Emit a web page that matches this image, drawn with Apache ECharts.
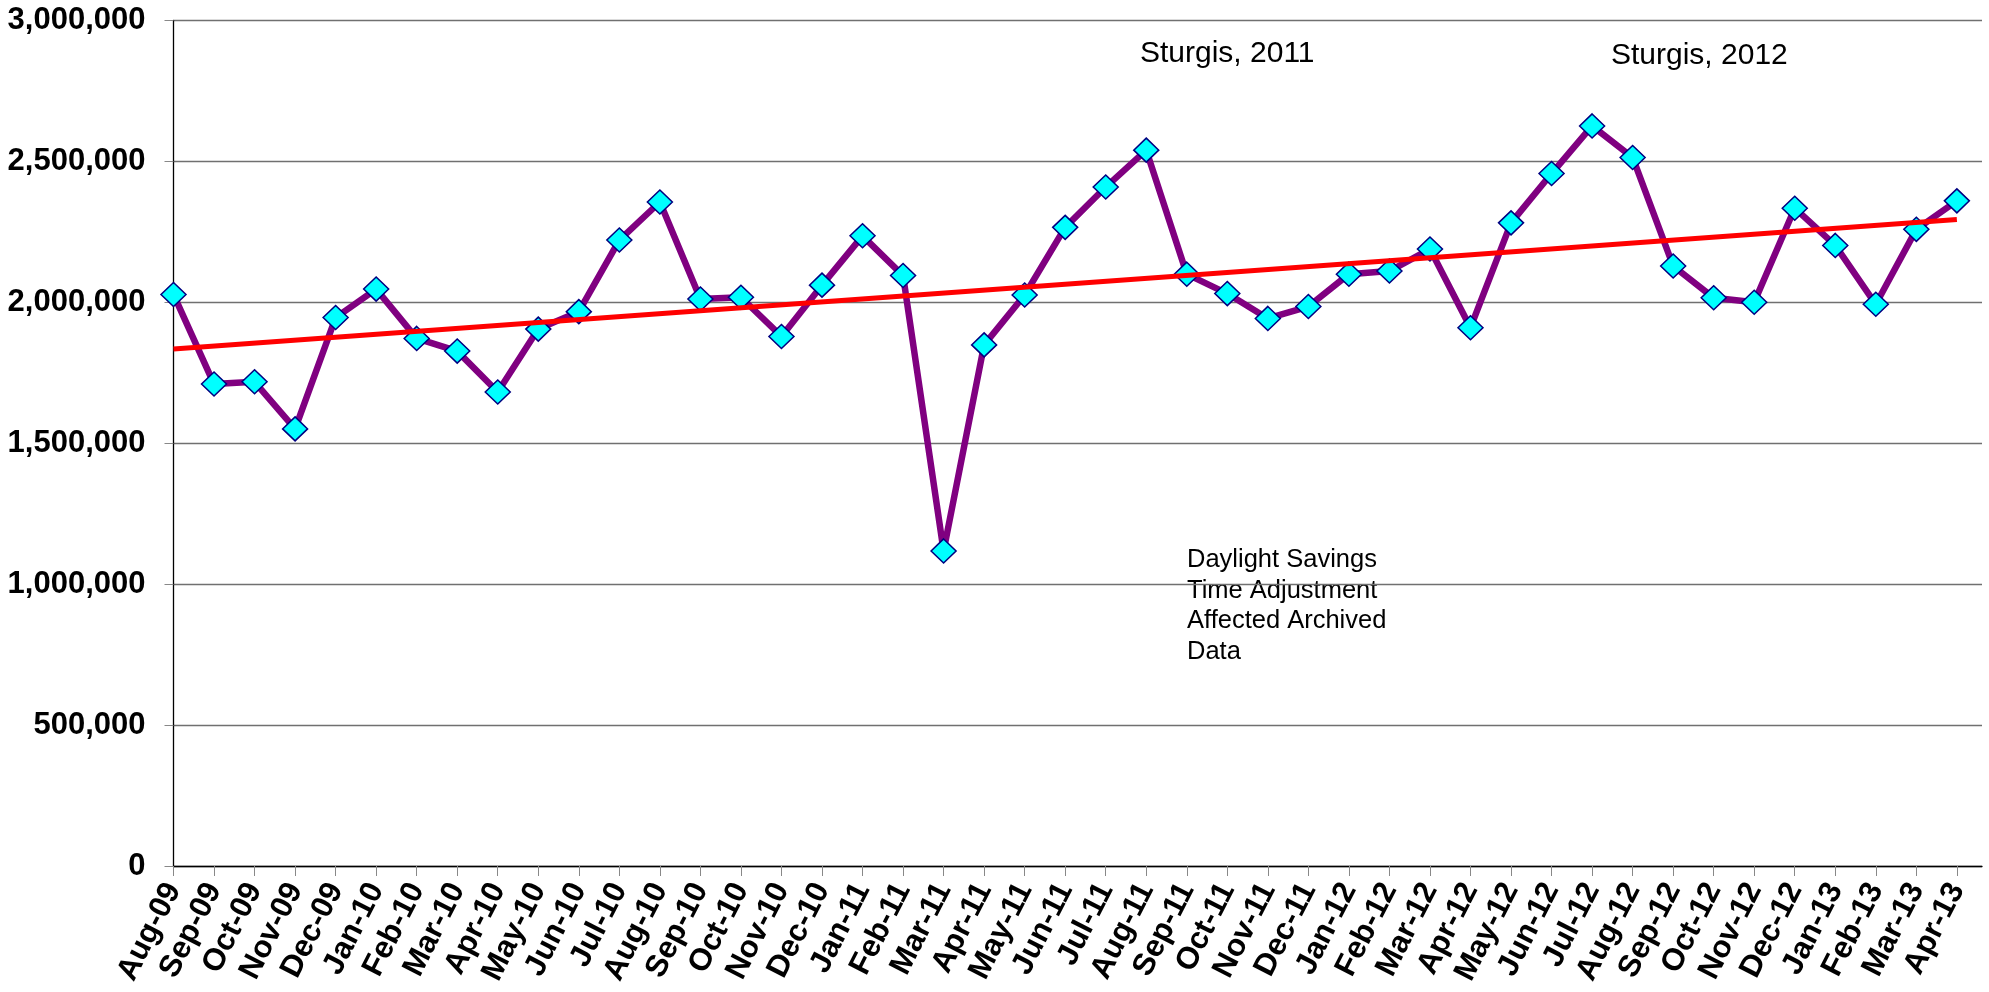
<!DOCTYPE html>
<html>
	<head>
		<meta charset="UTF-8">
		<title></title>
		<style>html,body{margin:0;padding:0;background:#fff;}#charts{width:1989px;height:992px;}</style>
	</head>
	<body>
		<div id="charts"></div>
	</body>
	<script src="https://cdn.jsdelivr.net/npm/echarts@6/dist/echarts.min.js"></script>
	<script>
		var mycharts = echarts.init(document.getElementById('charts'))
		//月份标签
		var months = ['Aug-09','Sep-09','Oct-09','Nov-09','Dec-09','Jan-10','Feb-10','Mar-10','Apr-10','May-10','Jun-10','Jul-10',
			'Aug-10','Sep-10','Oct-10','Nov-10','Dec-10','Jan-11','Feb-11','Mar-11','Apr-11','May-11','Jun-11','Jul-11',
			'Aug-11','Sep-11','Oct-11','Nov-11','Dec-11','Jan-12','Feb-12','Mar-12','Apr-12','May-12','Jun-12','Jul-12',
			'Aug-12','Sep-12','Oct-12','Nov-12','Dec-12','Jan-13','Feb-13','Mar-13','Apr-13'];
		//每月数值
		var values = [2028000,1710000,1718000,1551000,1946000,2047000,1872000,1827000,1682000,1905000,1967000,2221000,
			2356000,2012000,2018000,1879000,2061000,2236000,2095000,1118000,1849000,2026000,2266000,2409000,
			2540000,2100000,2031000,1943000,1985000,2100000,2111000,2189000,1910000,2282000,2457000,2626000,
			2514000,2129000,2016000,2000000,2334000,2202000,1993000,2259000,2360000];
		//趋势线两端 (第一个月, 最后一个月)
		var trendEnds = [1834500, 2294000];
		//纵轴刻度
		var yTicks = [0, 500000, 1000000, 1500000, 2000000, 2500000, 3000000];

		var idx = months.map(function (m, i) { return i; });
		var lineData = values.map(function (v, i) { return [i, v]; });
		var trendData = [[0, trendEnds[0]], [months.length - 1, trendEnds[1]]];

		var font = 'Liberation Sans, Arial, sans-serif';
		option = {
		    backgroundColor: '#fff',
		    animation: false,
		    grid: {left: 173.5, right: 7, top: 20.5, bottom: 126},
		    xAxis: {
		        type: 'value',
		        min: 0,
		        max: months.length - 1 + 0.62,
		        splitLine: {show: false},
		        axisLine: {lineStyle: {color: '#000', width: 1.3}},
		        axisTick: {show: true, length: 10, customValues: idx, lineStyle: {color: '#888'}},
		        axisLabel: {
		            customValues: idx,
		            rotate: 63,
		            margin: 19,
		            color: '#000',
		            fontFamily: font,
		            fontWeight: 'bold',
		            fontSize: 31,
		            formatter: function (v) { return months[v]; }
		        }
		    },
		    yAxis: {
		        type: 'value',
		        min: yTicks[0],
		        max: yTicks[yTicks.length - 1],
		        interval: yTicks[1] - yTicks[0],
		        axisLine: {show: true, lineStyle: {color: '#000', width: 1.3}},
		        axisTick: {show: true, length: 9, lineStyle: {color: '#888'}},
		        splitLine: {lineStyle: {color: '#707070', width: 1.3}},
		        axisLabel: {
		            margin: 28,
		            color: '#000',
		            fontFamily: font,
		            fontWeight: 'bold',
		            fontSize: 31,
		            formatter: function (v) { return v.toLocaleString('en-US'); }
		        }
		    },
		    series: [
		        {
		            type: 'line',
		            data: lineData,
		            symbol: 'diamond',
		            symbolSize: [25, 24],
		            lineStyle: {color: '#800080', width: 6.5},
		            itemStyle: {color: '#00FFFF', borderColor: '#000080', borderWidth: 1.5},
		            z: 2
		        },
		        {
		            type: 'line',
		            data: trendData,
		            symbol: 'none',
		            lineStyle: {color: '#FF0000', width: 5},
		            z: 3
		        }
		    ],
		    //注释文字
		    graphic: [
		        {type: 'text', left: 1140, top: 39, style: {text: 'Sturgis, 2011', font: '30px ' + font, fill: '#000'}},
		        {type: 'text', left: 1611, top: 41, style: {text: 'Sturgis, 2012', font: '30px ' + font, fill: '#000'}},
		        {type: 'text', left: 1187, top: 545, style: {text: 'Daylight Savings\nTime Adjustment\nAffected Archived\nData', font: '25.5px ' + font, lineHeight: 30.5, fill: '#000'}}
		    ]
		}
		mycharts.setOption(option);
	</script>
</html>
